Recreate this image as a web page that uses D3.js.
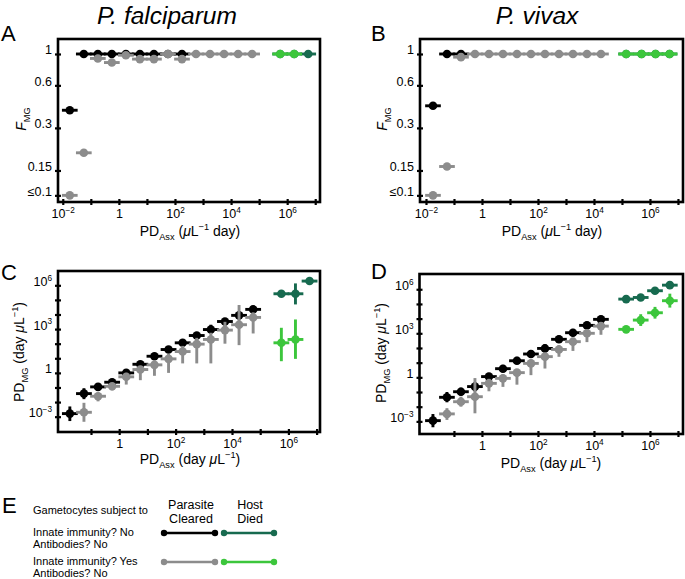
<!DOCTYPE html>
<html><head><meta charset="utf-8">
<script src="https://cdn.jsdelivr.net/npm/d3@7/dist/d3.min.js"></script>
<style>body{margin:0;background:#fff}svg{display:block;font-family:"Liberation Sans",Arial,Helvetica,sans-serif}</style>
</head><body>
<script>
// ---------- DATA (x values are log10 of PD_Asx bin centres) ----------
// Panel A: P. falciparum, F_MG
const aBlackX = [-1.75,-1.25,-0.75,-0.25,0.25,0.75,1.25,1.75,2.25];
const aBlackF = [0.40,1,1,1,1,1,1,1,1];
const aGrayX  = [-1.75,-1.25,-0.75,-0.25,0.25,0.75,1.25,1.75,2.25,2.75,3.25,3.75,4.25,4.75];
const aGrayF  = [0.10,0.20,0.93,0.87,0.98,0.92,0.92,1,0.92,1,1,1,1,1];
const aDarkX  = [5.75,6.25,6.75];
const aDarkF  = [1,1,1];
const aLightX = [5.75,6.25];
const aLightF = [1,1];
// Panel B: P. vivax, F_MG
const bBlackX = [-1.75,-1.25,-0.75];
const bBlackF = [0.43,1,1];
const bGrayX  = [-1.75,-1.25,-0.75,-0.25,0.25,0.75,1.25,1.75,2.25,2.75,3.25,3.75,4.25];
const bGrayF  = [0.10,0.16,0.95,1,1,1,1,1,1,1,1,1,1];
const bDarkX  = [5.15,5.7,6.2,6.7];
const bDarkF  = [1,1,1,1];
const bLightX = [5.15,5.7,6.2,6.7];
const bLightF = [1,1,1,1];
// Panel C: P. falciparum, log10 PD_MG (value, low, high)
const cBlackX  = [-1.75,-1.25,-0.75,-0.25,0.25,0.75,1.25,1.75,2.25,2.75,3.25,3.75,4.25,4.75];
const cBlackY  = [-2.79,-1.42,-0.96,-0.64,0.00,0.59,1.14,1.60,2.06,2.56,2.97,3.52,3.94,4.35];
const cBlackLo = [-3.30,-1.80,-1.20,-0.90,-0.20,0.40,0.95,1.40,1.85,2.35,2.70,3.30,3.70,4.10];
const cBlackHi = [-2.30,-1.05,-0.75,-0.40,0.20,0.80,1.35,1.80,2.30,2.80,3.30,3.75,4.20,4.60];
const cGrayX  = [-1.25,-0.75,-0.25,0.25,0.75,1.25,1.75,2.25,2.75,3.25,3.75,4.25,4.75];
const cGrayY  = [-2.70,-1.60,-0.92,-0.27,0.23,0.55,0.96,1.46,1.97,2.29,2.93,3.30,3.80];
const cGrayLo = [-3.35,-1.95,-1.20,-0.80,-0.50,-0.20,0.00,0.65,0.65,0.65,2.00,1.90,2.70];
const cGrayHi = [-2.05,-1.35,-0.70,0.00,0.45,0.85,1.30,1.85,2.40,2.75,3.50,4.65,4.15];
const cDarkX  = [5.75,6.25,6.75];
const cDarkY  = [5.42,5.42,6.29];
const cDarkLo = [5.25,4.69,6.15];
const cDarkHi = [5.60,6.13,6.45];
const cLightX  = [5.75,6.25];
const cLightY  = [2.06,2.29];
const cLightLo = [0.80,0.96];
const cLightHi = [3.09,3.66];
// Panel D: P. vivax, log10 PD_MG
const dBlackX  = [-1.75,-1.25,-0.75,-0.25,0.25,0.75,1.25,1.75,2.25,2.75,3.25,3.75,4.25];
const dBlackY  = [-2.95,-1.36,-0.98,-0.63,0.05,0.59,1.13,1.59,1.97,2.59,3.04,3.54,3.95];
const dBlackLo = [-3.40,-1.70,-1.25,-0.95,-0.20,0.35,0.90,1.35,1.70,2.35,2.80,3.30,3.70];
const dBlackHi = [-2.50,-1.00,-0.70,-0.35,0.30,0.85,1.40,1.85,2.25,2.85,3.30,3.80,4.20];
const dGrayX  = [-1.25,-0.75,-0.25,0.25,0.75,1.25,1.75,2.25,2.75,3.25,3.75,4.25];
const dGrayY  = [-2.49,-1.66,-1.32,-0.41,-0.07,0.32,0.95,1.41,1.90,2.43,3.00,3.49];
const dGrayLo = [-2.90,-2.00,-2.45,-0.95,-0.65,-0.50,0.15,0.60,1.40,1.80,2.40,2.90];
const dGrayHi = [-2.10,-1.32,-0.05,-0.10,0.20,0.50,1.20,1.65,2.20,2.65,3.25,3.75];
const dDarkX  = [5.15,5.67,6.18,6.71];
const dDarkY  = [5.33,5.44,5.90,6.28];
const dDarkLo = [5.18,5.29,5.75,6.12];
const dDarkHi = [5.48,5.59,6.05,6.44];
const dLightX  = [5.15,5.67,6.18,6.71];
const dLightY  = [3.27,3.90,4.40,5.22];
const dLightLo = [3.10,3.50,4.00,4.75];
const dLightHi = [3.45,4.30,4.80,5.70];
// Tick values
const fTicks = [1,0.6,0.3,0.15,0.1];
const fTickLabels = ["1","0.6","0.3","0.15","≤0.1"];
const xTicksAB = [-2,-1,0,1,2,3,4,5,6,7];
const xTicksCD = [-1,0,1,2,3,4,5,6,7];
const xLabeled = [-2,0,2,4,6];
const yTicksCD = [-3,-2,-1,0,1,2,3,4,5,6];
const yLabeled = [-3,0,3,6];

// ---------- STYLE ----------
const COL = {black:"#000000", gray:"#8c8c8c", dark:"#176a4f", light:"#3cc63c"};
const R = 4.3, BAR = 2.9, XHW = 0.28;

const svg = d3.select("body").append("svg").attr("width",685).attr("height",579);
svg.append("rect").attr("width",685).attr("height",579).attr("fill","#fff");

function rich(sel, parts, size){
  let shift = 0;
  parts.forEach(p => {
    const [t,k,it] = p;
    const target = k==="sub" ? 0.3*size : k==="sup" ? -0.42*size : 0;
    const ts = sel.append("tspan").text(t).attr("dy", (target-shift).toFixed(2))
      .attr("font-size", k ? size*0.66 : size);
    if (it) ts.attr("font-style","italic");
    shift = target;
  });
}

function expLabel(e){
  if (e===0) return [["1"]];
  return [["10"],[(e<0?"−":"")+Math.abs(e),"sup"]];
}

function panel(cfg){
  const x = d3.scaleLog().domain([10**cfg.xd[0],10**cfg.xd[1]]).range([cfg.x0,cfg.x1]);
  const y = d3.scaleLog().domain([10**cfg.yd[0],10**cfg.yd[1]]).range([cfg.y1,cfg.y0]);
  const g = svg.append("g");
  cfg.series.forEach(s => {
    const sg = g.append("g");
    const pts = s.x.map((xe,i)=>({
      xe, yv: s.logY ? 10**s.y[i] : s.y[i],
      lo: s.lo ? 10**s.lo[i] : null, hi: s.hi ? 10**s.hi[i] : null
    }));
    if (s.lo) sg.selectAll(null).data(pts).join("line")
      .attr("x1",d=>x(10**d.xe)).attr("x2",d=>x(10**d.xe))
      .attr("y1",d=>y(d.lo)).attr("y2",d=>y(d.hi))
      .attr("stroke",s.color).attr("stroke-width",BAR);
    sg.selectAll(null).data(pts).join("line")
      .attr("x1",d=>x(10**(d.xe-XHW))).attr("x2",d=>x(10**(d.xe+XHW)))
      .attr("y1",d=>y(d.yv)).attr("y2",d=>y(d.yv))
      .attr("stroke",s.color).attr("stroke-width",BAR);
    sg.selectAll(null).data(pts).join("circle")
      .attr("cx",d=>x(10**d.xe)).attr("cy",d=>y(d.yv)).attr("r",R).attr("fill",s.color);
  });
  // x axis
  const xa = d3.axisBottom(x).tickValues(cfg.xt.map(e=>10**e)).tickSize(6).tickFormat("");
  const gx = svg.append("g").attr("transform",`translate(0,${cfg.y1})`).call(xa);
  gx.select(".domain").remove();
  gx.selectAll(".tick line").attr("y1",-3).attr("y2",3).attr("stroke-width",2.2);
  gx.selectAll(".tick text").each(function(d){
    const e = Math.round(Math.log10(d));
    const t = d3.select(this).attr("y",16).attr("dy",null).attr("fill","#000");
    if (xLabeled.includes(e)) rich(t, expLabel(e), 12.5);
  });
  // y axis
  const ya = d3.axisLeft(y).tickValues(cfg.yt).tickSize(6).tickFormat("");
  const gy = svg.append("g").attr("transform",`translate(${cfg.x0},0)`).call(ya);
  gy.select(".domain").remove();
  gy.selectAll(".tick line").attr("x1",-3).attr("x2",3).attr("stroke-width",2.2);
  gy.selectAll(".tick text").each(function(d,i){
    const t = d3.select(this).attr("x",-6).attr("dy","0.35em").attr("fill","#000");
    const parts = cfg.ylab(d,i);
    if (parts) rich(t, parts, 12.5);
  });
  // frame
  svg.append("rect").attr("x",cfg.x0).attr("y",cfg.y0)
    .attr("width",cfg.x1-cfg.x0).attr("height",cfg.y1-cfg.y0)
    .attr("fill","none").attr("stroke","#000").attr("stroke-width",2.6);
  // axis titles
  const xt = svg.append("text").attr("x",cfg.xtx).attr("y",cfg.xty).attr("text-anchor","middle").attr("font-size",14);
  rich(xt, cfg.xtitle, 14);
  const yt = svg.append("text").attr("transform",`translate(${cfg.ytx},${cfg.yty}) rotate(-90)`)
    .attr("text-anchor","middle").attr("font-size",14);
  rich(yt, cfg.ytitle, 14);
}

const fLab = (d,i)=>[[fTickLabels[fTicks.indexOf(d)]]];
const pLab = d => { const e=Math.round(Math.log10(d)); return yLabeled.includes(e)?expLabel(e):null; };
const xTitleAB = [["PD"],["Asx","sub"],[" ("],["μ","",true],["L"],["−1","sup"],[" day)"]];
const xTitleCD = [["PD"],["Asx","sub"],[" (day "],["μ","",true],["L"],["−1","sup"],[")"]];
const yTitleF = [["F","",true],["MG","sub"]];
const yTitleP = [["PD"],["MG","sub"],[" (day "],["μ","",true],["L"],["−1","sup"],[")"]];

panel({x0:58,x1:320,y0:39,y1:202,xd:[-2.17,7.17],yd:[-1.047,0.106],
  xt:xTicksAB,yt:fTicks,ylab:fLab,xtitle:xTitleAB,ytitle:yTitleF,
  xtx:190,xty:236,ytx:26,yty:119,
  series:[
    {x:aBlackX,y:aBlackF,color:COL.black},
    {x:aGrayX,y:aGrayF,color:COL.gray},
    {x:aDarkX,y:aDarkF,color:COL.dark},
    {x:aLightX,y:aLightF,color:COL.light}]});
panel({x0:420,x1:683,y0:39,y1:202,xd:[-2.214,7.18],yd:[-1.047,0.106],
  xt:xTicksAB,yt:fTicks,ylab:fLab,xtitle:xTitleAB,ytitle:yTitleF,
  xtx:552,xty:236,ytx:387,yty:119,
  series:[
    {x:bBlackX,y:bBlackF,color:COL.black},
    {x:bGrayX,y:bGrayF,color:COL.gray},
    {x:bDarkX,y:bDarkF,color:COL.dark},
    {x:bLightX,y:bLightF,color:COL.light}]});
panel({x0:58,x1:320,y0:271,y1:432,xd:[-2.17,7.12],yd:[-4.05,6.98],
  xt:xTicksCD,yt:yTicksCD.map(e=>10**e),ylab:pLab,xtitle:xTitleCD,ytitle:yTitleP,
  xtx:190,xty:464,ytx:24,yty:352,
  series:[
    {x:cBlackX,y:cBlackY,lo:cBlackLo,hi:cBlackHi,logY:true,color:COL.black},
    {x:cGrayX,y:cGrayY,lo:cGrayLo,hi:cGrayHi,logY:true,color:COL.gray},
    {x:cDarkX,y:cDarkY,lo:cDarkLo,hi:cDarkHi,logY:true,color:COL.dark},
    {x:cLightX,y:cLightY,lo:cLightLo,hi:cLightHi,logY:true,color:COL.light}]});
panel({x0:419.5,x1:683,y0:274,y1:434,xd:[-2.23,7.18],yd:[-3.86,7.04],
  xt:xTicksCD,yt:yTicksCD.map(e=>10**e),ylab:pLab,xtitle:xTitleCD,ytitle:yTitleP,
  xtx:551,xty:468,ytx:386,yty:353,
  series:[
    {x:dBlackX,y:dBlackY,lo:dBlackLo,hi:dBlackHi,logY:true,color:COL.black},
    {x:dGrayX,y:dGrayY,lo:dGrayLo,hi:dGrayHi,logY:true,color:COL.gray},
    {x:dDarkX,y:dDarkY,lo:dDarkLo,hi:dDarkHi,logY:true,color:COL.dark},
    {x:dLightX,y:dLightY,lo:dLightLo,hi:dLightHi,logY:true,color:COL.light}]});

// titles and panel letters
svg.append("text").attr("x",167).attr("y",24).attr("text-anchor","middle")
  .attr("font-size",24.5).attr("font-style","italic").text("P. falciparum");
svg.append("text").attr("x",537).attr("y",24).attr("text-anchor","middle")
  .attr("font-size",24.5).attr("font-style","italic").text("P. vivax");
[["A",1,41],["B",371,41],["C",1,280],["D",371,279],["E",2,513]].forEach(([t,x,y])=>
  svg.append("text").attr("x",x).attr("y",y).attr("font-size",22).text(t));

// legend
const legRows = ["Gametocytes subject to","Innate immunity? No","Antibodies? No","Innate immunity? Yes","Antibodies? No"];
const legY = [514,536,548,565,577];
legRows.forEach((t,i)=>svg.append("text").attr("x",33).attr("y",legY[i]).attr("font-size",11).text(t));
[["Parasite",191,509],["Cleared",191,523],["Host",250,509],["Died",250,523]].forEach(([t,x,y])=>
  svg.append("text").attr("x",x).attr("y",y).attr("text-anchor","middle").attr("font-size",12.5).text(t));
const legLines = [[164,215,533,COL.black],[224,274,533,COL.dark],[164,215,562,COL.gray],[224,274,562,COL.light]];
legLines.forEach(([a,b,yy,c])=>{
  svg.append("line").attr("x1",a).attr("x2",b).attr("y1",yy).attr("y2",yy).attr("stroke",c).attr("stroke-width",2.6);
  [a,b].forEach(xx=>svg.append("circle").attr("cx",xx).attr("cy",yy).attr("r",3.2).attr("fill",c));
});
</script>
</body></html>
